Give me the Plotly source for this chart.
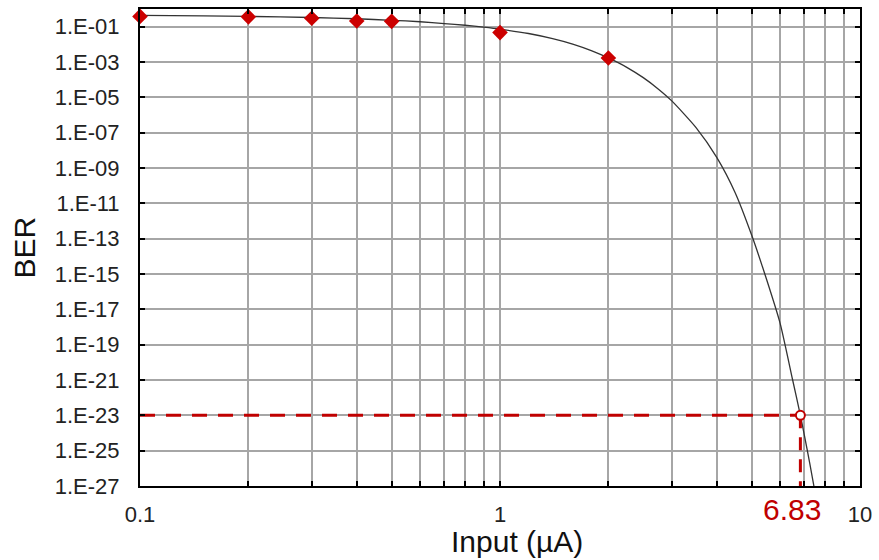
import math
import plotly.graph_objects as go

# Measured bit error rate
meas_input = [0.1, 0.2, 0.3, 0.4, 0.5, 1.0, 2.0]
meas_ber = [0.38, 0.36, 0.30, 0.21, 0.20, 0.046, 0.0017]

# Fitted BER curve
fit_input = [0.1, 0.15, 0.2, 0.3, 0.4, 0.5, 0.6, 0.7, 0.8, 0.9, 1.0, 1.2, 1.4,
             1.6, 1.8, 2.0, 2.25, 2.5, 2.75, 3.0, 3.5, 4.0, 4.5, 5.0, 5.5,
             6.0, 6.5, 6.83, 7.0, 7.25, 7.46]
fit_ber = [4.4e-1, 4.1e-1, 3.8e-1, 3.3e-1, 2.8e-1, 2.3e-1, 1.9e-1, 1.5e-1,
           1.2e-1, 9.3e-2, 7.2e-2, 4.1e-2, 2.1e-2, 1.0e-2, 4.3e-3, 1.7e-3,
           5.0e-4, 1.3e-4, 3.0e-5, 6.3e-6, 2.0e-7, 4.0e-9, 4.0e-11, 1.6e-13,
           5.0e-16, 1.6e-18, 1.0e-21, 1.0e-23, 8.0e-25, 2.0e-26, 8.0e-28]

# Operating point read from the fit
target_input = 6.83
target_ber = 1e-23
x_min = 0.1
y_min = 1e-27

# Axis ticks
x_tickvals = [0.1, 0.2, 0.3, 0.4, 0.5, 0.6, 0.7, 0.8, 0.9,
              1, 2, 3, 4, 5, 6, 7, 8, 9, 10]
x_ticktext = ["0.1", "", "", "", "", "", "", "", "",
              "1", "", "", "", "", "", "", "", "", "10"]
y_exponents = [-1, -3, -5, -7, -9, -11, -13, -15, -17, -19, -21, -23, -25, -27]
y_tickvals = [10.0 ** e for e in y_exponents]
y_ticktext = ["1.E-%02d" % (-e) for e in y_exponents]

RED = "#c00000"
FONT = "Liberation Sans, Arial, sans-serif"

fig = go.Figure()

fig.add_trace(go.Scatter(
    x=fit_input, y=fit_ber, mode="lines",
    line=dict(color="#333333", width=1.3, shape="spline", smoothing=0.6),
    hoverinfo="skip", showlegend=False))

# Guide lines to the operating point
fig.add_trace(go.Scatter(
    x=[x_min, target_input], y=[target_ber, target_ber], mode="lines",
    line=dict(color=RED, width=3, dash="15px,11px"),
    showlegend=False, hoverinfo="skip"))
fig.add_trace(go.Scatter(
    x=[target_input, target_input], y=[target_ber, y_min], mode="lines",
    line=dict(color=RED, width=3, dash="13px,9px"),
    showlegend=False, hoverinfo="skip"))

fig.add_trace(go.Scatter(
    x=meas_input, y=meas_ber, mode="markers",
    marker=dict(symbol="diamond", size=12, color="#cc0000"),
    cliponaxis=False, showlegend=False))

fig.add_trace(go.Scatter(
    x=[target_input], y=[target_ber], mode="markers",
    marker=dict(symbol="circle", size=9, color="white",
                line=dict(color=RED, width=2)),
    cliponaxis=False, showlegend=False))

# Value label under the operating point (log axis: position in log10 units)
fig.add_annotation(
    x=math.log10(target_input), xref="x", y=-0.05, yref="paper",
    yanchor="middle", text=str(target_input), showarrow=False,
    font=dict(family=FONT, size=30, color=RED), xshift=-8)

# Axis titles
fig.add_annotation(
    x=0.5235, xref="paper", y=-0.117, yref="paper", yanchor="middle",
    text="Input (µA)", showarrow=False,
    font=dict(family=FONT, size=30, color="#111111"))
fig.add_annotation(
    x=-0.161, xref="paper", y=0.5, yref="paper", xanchor="center",
    text="BER", textangle=-90, showarrow=False,
    font=dict(family=FONT, size=30, color="#111111"))

fig.update_layout(
    width=879, height=560,
    margin=dict(l=140, r=17, t=7, b=74),
    paper_bgcolor="white", plot_bgcolor="white",
    font=dict(family=FONT, size=22, color="#222222"),
)

fig.update_xaxes(
    type="log", range=[-1, 1],
    tickmode="array", tickvals=x_tickvals, ticktext=x_ticktext,
    ticks="inside", ticklen=5, tickwidth=2, tickcolor="black",
    showgrid=True, gridcolor="#a6a6a6", gridwidth=1.5,
    showline=True, linecolor="black", linewidth=2, mirror="ticks",
    tickfont=dict(size=22, color="#222222"),
    ticklabelstandoff=8,
    zeroline=False,
)
fig.update_yaxes(
    type="log", range=[-27, 0],
    tickmode="array", tickvals=y_tickvals, ticktext=y_ticktext,
    ticks="inside", ticklen=5, tickwidth=2, tickcolor="black",
    showgrid=True, gridcolor="#a6a6a6", gridwidth=1.5,
    showline=True, linecolor="black", linewidth=2, mirror="ticks",
    tickfont=dict(size=22, color="#222222"),
    ticklabelstandoff=14,
    zeroline=False,
)

fig.write_html("out.html")
